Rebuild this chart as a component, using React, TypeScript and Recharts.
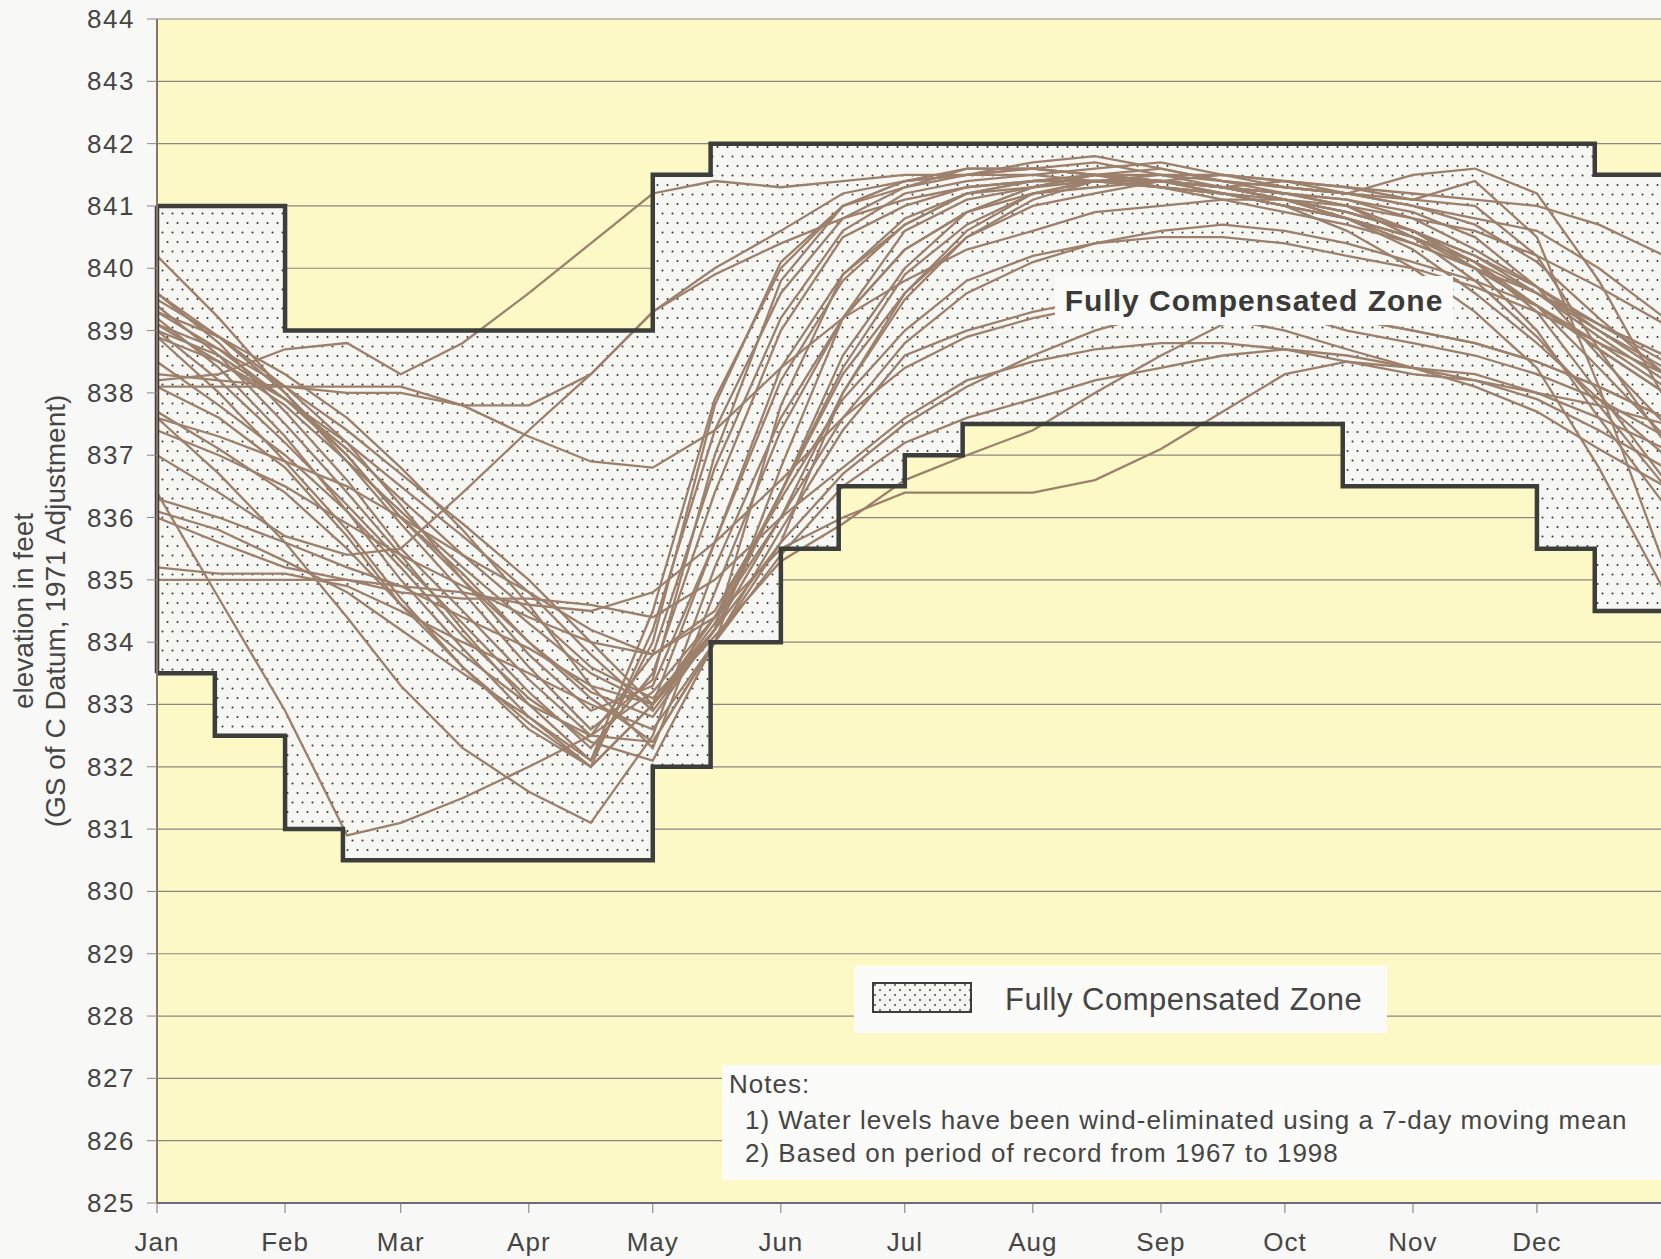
import {
  ComposedChart,
  Line,
  Area,
  XAxis,
  YAxis,
  CartesianGrid,
  ReferenceLine,
  Label,
} from "recharts";

const FONT = '"Liberation Sans", Arial, Helvetica, sans-serif';
const TEXT = "#454545";

// sample dates (day of year) for every trace
const DAYS = [0, 15, 31, 46, 59, 74, 90, 105, 120, 135, 151, 166, 181, 196, 212, 227, 243, 258, 273, 288, 304, 319, 334, 349, 365];

const MONTH_TICKS = [0, 31, 59, 90, 120, 151, 181, 212, 243, 273, 304, 334];
const MONTH_LABELS = ["Jan", "Feb", "Mar", "Apr", "May", "Jun", "Jul", "Aug", "Sep", "Oct", "Nov", "Dec"];
const ELEV_TICKS = [825, 826, 827, 828, 829, 830, 831, 832, 833, 834, 835, 836, 837, 838, 839, 840, 841, 842, 843, 844];

// fully compensated zone, step boundaries
const ZONE_DAYS = [0, 14, 31, 45, 120, 134, 151, 165, 181, 195, 287, 334, 348, 365];
const ZONE_UPPER = [841, 841, 839, 839, 841.5, 842, 842, 842, 842, 842, 842, 842, 841.5, 841.5];
const ZONE_LOWER = [833.5, 832.5, 831, 830.5, 832, 834, 835.5, 836.5, 837, 837.5, 836.5, 835.5, 834.5, 834.5];

// yearly water level traces (7-day mean), one value per entry of DAYS
const TRACE_01 = [840.2, 839.2, 838.0, 836.9, 835.9, 834.8, 833.6, 832.6, 833.4, 837.0, 839.8, 841.0, 841.4, 841.5, 841.6, 841.7, 841.5, 841.3, 841.2, 841.0, 840.6, 840.0, 839.0, 837.6, 836.2];
const TRACE_02 = [839.6, 838.8, 837.7, 836.6, 835.5, 834.5, 833.4, 832.5, 833.8, 836.8, 839.2, 840.6, 841.2, 841.4, 841.5, 841.6, 841.7, 841.5, 841.3, 841.2, 841.0, 840.7, 840.1, 839.2, 838.3];
const TRACE_03 = [839.5, 838.9, 838.1, 837.2, 836.2, 835.0, 833.8, 832.9, 833.3, 835.6, 838.4, 839.9, 840.7, 841.2, 841.4, 841.5, 841.4, 841.3, 841.1, 840.8, 840.3, 839.6, 838.8, 837.9, 837.0];
const TRACE_04 = [839.4, 838.6, 837.5, 836.4, 835.4, 834.2, 833.0, 832.1, 834.0, 837.8, 840.1, 841.0, 841.4, 841.6, 841.6, 841.5, 841.4, 841.3, 841.4, 841.3, 841.1, 841.4, 840.5, 838.1, 835.2];
const TRACE_05 = [839.3, 838.7, 837.9, 837.0, 836.0, 835.1, 834.0, 833.2, 832.8, 834.2, 837.8, 839.9, 840.8, 841.2, 841.3, 841.4, 841.4, 841.3, 841.2, 841.1, 840.9, 840.5, 839.7, 838.6, 837.5];
const TRACE_06 = [839.2, 838.4, 837.3, 836.1, 835.0, 833.9, 832.8, 832.1, 834.5, 837.9, 840.0, 841.0, 841.3, 841.5, 841.7, 841.8, 841.6, 841.4, 841.2, 841.0, 840.5, 839.8, 838.9, 837.8, 836.5];
const TRACE_07 = [839.1, 838.5, 837.8, 836.9, 836.1, 835.2, 834.3, 833.5, 833.0, 834.3, 836.4, 838.6, 840.0, 840.9, 841.3, 841.5, 841.6, 841.4, 841.3, 841.2, 841.1, 841.0, 840.2, 838.7, 837.2];
const TRACE_08 = [839.0, 838.2, 837.2, 836.2, 835.3, 834.3, 833.2, 832.3, 833.5, 836.4, 839.0, 840.5, 841.0, 841.3, 841.4, 841.5, 841.3, 841.2, 841.1, 840.8, 840.4, 840.0, 839.6, 839.1, 838.6];
const TRACE_09 = [839.0, 838.6, 837.9, 837.1, 836.3, 835.4, 834.5, 833.6, 833.1, 834.2, 836.0, 838.0, 839.5, 840.5, 841.1, 841.4, 841.5, 841.5, 841.4, 841.3, 841.2, 841.1, 841.0, 840.7, 840.2];
const TRACE_10 = [838.9, 838.0, 836.9, 835.8, 834.7, 833.6, 832.6, 832.0, 834.2, 837.4, 839.6, 840.8, 841.3, 841.6, 841.6, 841.5, 841.4, 841.2, 841.0, 840.6, 840.0, 839.3, 838.4, 836.8, 834.8];
const TRACE_11 = [838.5, 837.8, 837.0, 836.1, 835.2, 834.1, 833.1, 832.4, 832.1, 834.0, 835.6, 838.0, 839.6, 840.6, 841.2, 841.4, 841.4, 841.3, 841.2, 841.1, 840.8, 840.3, 839.7, 839.0, 838.3];
const TRACE_12 = [838.1, 837.6, 836.8, 835.7, 834.6, 833.6, 832.7, 832.0, 833.0, 835.6, 838.2, 839.8, 840.7, 841.2, 841.4, 841.4, 841.3, 841.1, 840.9, 840.7, 840.4, 840.0, 839.4, 838.7, 838.0];
const TRACE_13 = [837.7, 837.1, 836.4, 835.5, 834.6, 833.8, 833.0, 832.5, 832.4, 834.0, 835.8, 837.4, 838.6, 839.0, 839.3, 839.5, 839.6, 839.5, 839.3, 839.0, 838.8, 838.6, 838.3, 837.9, 837.3];
const TRACE_14 = [837.6, 836.7, 835.6, 834.4, 833.3, 832.3, 831.6, 831.1, 832.5, 835.2, 837.6, 839.2, 840.3, 840.9, 841.3, 841.5, 841.4, 841.2, 841.0, 840.8, 840.5, 840.1, 839.3, 838.0, 836.6];
const TRACE_15 = [836.4, 834.7, 832.9, 830.9, 831.1, 831.5, 832.0, 832.5, 833.2, 834.4, 836.4, 838.4, 839.9, 840.7, 841.2, 841.4, 841.4, 841.3, 841.1, 840.9, 840.6, 840.1, 839.4, 838.4, 837.3];
const TRACE_16 = [839.1, 838.7, 838.1, 837.4, 836.7, 835.9, 835.0, 834.0, 833.0, 834.4, 836.0, 837.6, 838.8, 839.6, 840.1, 840.4, 840.6, 840.7, 840.6, 840.4, 840.1, 839.8, 839.4, 838.8, 838.1];
const TRACE_17 = [839.3, 838.9, 838.3, 837.6, 836.8, 835.8, 834.6, 833.3, 832.3, 834.8, 837.4, 839.2, 840.3, 840.9, 841.2, 841.3, 841.4, 841.3, 841.1, 840.9, 840.6, 840.2, 839.6, 838.9, 838.2];
const TRACE_18 = [838.9, 838.5, 837.9, 837.2, 836.5, 835.7, 834.8, 833.8, 832.9, 834.2, 836.4, 838.3, 839.6, 840.5, 841.0, 841.2, 841.4, 841.5, 841.4, 841.2, 841.5, 841.6, 841.2, 839.8, 837.9];
const TRACE_19 = [839.6, 838.9, 838.0, 837.0, 836.0, 835.0, 834.0, 833.1, 832.4, 834.0, 836.8, 839.2, 840.6, 841.1, 841.3, 841.5, 841.5, 841.4, 841.3, 841.2, 841.0, 840.8, 840.6, 840.0, 839.2];
const TRACE_20 = [835.0, 835.0, 835.0, 835.0, 834.9, 834.8, 834.6, 834.5, 834.8, 835.6, 836.6, 837.6, 838.4, 838.9, 839.2, 839.4, 839.5, 839.5, 839.4, 839.2, 839.0, 838.8, 838.5, 838.1, 837.6];
const TRACE_21 = [836.0, 835.6, 835.2, 835.0, 834.8, 834.7, 834.7, 834.6, 834.4, 835.0, 836.0, 836.8, 837.6, 838.2, 838.5, 838.7, 838.8, 838.8, 838.7, 838.5, 838.3, 838.2, 838.0, 837.8, 837.5];
const TRACE_22 = [836.3, 836.0, 835.6, 835.2, 834.9, 834.4, 833.9, 833.3, 833.0, 834.2, 835.6, 836.7, 837.5, 838.1, 838.6, 839.0, 839.3, 839.2, 839.0, 838.7, 838.4, 838.2, 837.9, 837.4, 836.8];
const TRACE_23 = [835.2, 835.1, 835.1, 834.9, 834.5, 834.0, 833.5, 833.0, 832.6, 834.0, 835.4, 836.5, 837.2, 837.6, 837.9, 838.2, 838.4, 838.6, 838.7, 838.6, 838.4, 838.1, 837.7, 837.1, 836.5];
const TRACE_24 = [836.1, 835.8, 835.3, 834.8, 834.2, 833.5, 832.8, 832.0, 833.0, 834.1, 835.3, 835.9, 836.6, 837.0, 837.4, 838.0, 838.6, 839.1, 839.3, 839.2, 839.0, 838.8, 838.5, 838.1, 837.6];
const TRACE_25 = [837.4, 837.0, 836.5, 835.9, 835.4, 834.9, 834.4, 834.0, 833.8, 834.4, 835.5, 836.0, 836.4, 836.4, 836.4, 836.6, 837.1, 837.7, 838.3, 838.5, 838.4, 838.3, 838.0, 837.6, 837.1];
const TRACE_26 = [837.6, 837.3, 836.9, 836.5, 836.0, 835.4, 834.8, 834.2, 833.8, 834.5, 836.3, 837.9, 839.0, 839.8, 840.2, 840.4, 840.5, 840.5, 840.4, 840.2, 840.0, 839.7, 839.3, 838.8, 838.3];
const TRACE_27 = [838.2, 838.3, 838.7, 838.8, 838.3, 838.8, 839.6, 840.4, 841.2, 841.4, 841.3, 841.4, 841.5, 841.5, 841.6, 841.5, 841.4, 841.3, 841.1, 840.9, 840.6, 840.2, 839.7, 839.1, 838.5];
const TRACE_28 = [838.3, 838.2, 838.1, 838.0, 838.0, 837.8, 837.8, 838.3, 839.3, 840.0, 840.6, 841.2, 841.4, 841.5, 841.5, 841.4, 841.3, 841.2, 841.0, 840.8, 840.5, 840.1, 839.6, 839.0, 838.4];
const TRACE_29 = [838.1, 838.1, 838.1, 838.1, 838.1, 837.8, 837.3, 836.9, 836.8, 837.4, 838.4, 839.2, 839.8, 840.3, 840.6, 840.9, 841.0, 841.1, 841.1, 841.0, 840.8, 840.6, 840.2, 839.7, 839.1];
const TRACE_30 = [837.0, 836.4, 835.7, 835.4, 835.5, 836.4, 837.4, 838.3, 839.3, 839.9, 840.4, 840.8, 841.1, 841.3, 841.4, 841.4, 841.3, 841.2, 841.0, 840.8, 840.5, 840.0, 839.4, 838.7, 838.0];

const TRACES = [
  TRACE_01, TRACE_02, TRACE_03, TRACE_04, TRACE_05, TRACE_06, TRACE_07, TRACE_08, TRACE_09, TRACE_10,
  TRACE_11, TRACE_12, TRACE_13, TRACE_14, TRACE_15, TRACE_16, TRACE_17, TRACE_18, TRACE_19, TRACE_20,
  TRACE_21, TRACE_22, TRACE_23, TRACE_24, TRACE_25, TRACE_26, TRACE_27, TRACE_28, TRACE_29, TRACE_30,
];

const rows = DAYS.map((day, i) => {
  const row: Record<string, number> = { day };
  TRACES.forEach((t, k) => {
    row[`t${k}`] = t[i];
  });
  return row;
});

const zoneRows = ZONE_DAYS.map((day, i) => ({
  day,
  band: [ZONE_LOWER[i], ZONE_UPPER[i]],
  upper: ZONE_UPPER[i],
  lower: ZONE_LOWER[i],
}));

const YTick = ({ x, y, payload }: any) => (
  <text
    x={x}
    y={y}
    textAnchor="end"
    dominantBaseline="central"
    fontSize={26}
    letterSpacing={1.5}
    fontFamily={FONT}
    fill={TEXT}
  >
    {payload.value}
  </text>
);

const XTick = ({ x, y, payload }: any) => (
  <text
    x={x}
    y={y}
    dy="0.71em"
    textAnchor="middle"
    fontSize={26}
    letterSpacing={1}
    fontFamily={FONT}
    fill={TEXT}
  >
    {MONTH_LABELS[MONTH_TICKS.indexOf(payload.value)]}
  </text>
);

const YTitle = (props: any) => {
  const vb = props.viewBox || { x: 0, y: 19, width: 157, height: 1184 };
  const cy = vb.y + vb.height / 2;
  const x1 = vb.x + 23;
  const x2 = vb.x + 55;
  const common = {
    textAnchor: "middle" as const,
    dominantBaseline: "central" as const,
    fontSize: 28,
    fontFamily: FONT,
    fill: TEXT,
  };
  return (
    <g>
      <text x={x1} y={cy} transform={`rotate(-90, ${x1}, ${cy})`} {...common}>
        elevation in feet
      </text>
      <text x={x2} y={cy} transform={`rotate(-90, ${x2}, ${cy})`} {...common}>
        (GS of C Datum, 1971 Adjustment)
      </text>
    </g>
  );
};

const boxStyle: React.CSSProperties = {
  position: "absolute",
  background: "#fbfbf9",
  fontFamily: FONT,
  color: TEXT,
};

export default function App() {
  return (
    <div
      style={{
        position: "relative",
        width: 1661,
        height: 1259,
        overflow: "hidden",
        background: "#f8f8f6",
      }}
    >
      <style>{"body{margin:0;}"}</style>
      <ComposedChart
        width={1665}
        height={1259}
        data={rows}
        margin={{ top: 19, right: 0, bottom: 0, left: 0 }}
      >
        <defs>
          <pattern id="zoneDots" width="10" height="19" patternUnits="userSpaceOnUse">
            <rect width="10" height="19" fill="#f6f6f3" />
            <circle cx="2.5" cy="4.5" r="1" fill="#333" />
            <circle cx="7.5" cy="14" r="1" fill="#333" />
          </pattern>
        </defs>
        <CartesianGrid
          vertical={false}
          stroke="#8e8581"
          strokeWidth={1.2}
          fill="#fdf9c6"
          fillOpacity={1}
        />
        <XAxis
          dataKey="day"
          type="number"
          domain={[0, 365]}
          ticks={MONTH_TICKS}
          interval={0}
          allowDataOverflow
          height={56}
          tickSize={10}
          tickMargin={20}
          tick={<XTick />}
          axisLine={{ stroke: "#6c6880", strokeWidth: 2 }}
          tickLine={{ stroke: "#777" }}
        />
        <YAxis
          type="number"
          domain={[825, 844]}
          ticks={ELEV_TICKS}
          interval={0}
          allowDataOverflow
          width={157}
          tickSize={10}
          tickMargin={12}
          tick={<YTick />}
          axisLine={{ stroke: "#8a7565", strokeWidth: 2 }}
          tickLine={{ stroke: "#8e8581" }}
        >
          <Label content={<YTitle />} />
        </YAxis>

        <Area
          data={zoneRows}
          dataKey="band"
          type="stepAfter"
          fill="url(#zoneDots)"
          fillOpacity={1}
          stroke="none"
          isAnimationActive={false}
          activeDot={false}
        />

        {TRACES.map((_, k) => (
          <Line
            key={k}
            dataKey={`t${k}`}
            type="linear"
            stroke="#9c806c"
            strokeWidth={2.3}
            dot={false}
            activeDot={false}
            isAnimationActive={false}
          />
        ))}

        <Line
          data={zoneRows}
          dataKey="upper"
          type="stepAfter"
          stroke="#3b3e3b"
          strokeWidth={4.5}
          dot={false}
          activeDot={false}
          isAnimationActive={false}
        />
        <Line
          data={zoneRows}
          dataKey="lower"
          type="stepAfter"
          stroke="#3b3e3b"
          strokeWidth={4.5}
          dot={false}
          activeDot={false}
          isAnimationActive={false}
        />
        <ReferenceLine
          segment={[
            { x: 0, y: ZONE_LOWER[0] },
            { x: 0, y: ZONE_UPPER[0] },
          ]}
          stroke="#3b3e3b"
          strokeWidth={4.5}
        />
      </ComposedChart>

      {/* zone label */}
      <div
        style={{
          ...boxStyle,
          left: 1055,
          top: 276,
          width: 398,
          height: 49,
          display: "flex",
          alignItems: "center",
          justifyContent: "center",
          fontWeight: 700,
          fontSize: 30,
          letterSpacing: 1,
          color: "#3a3a3a",
        }}
      >
        Fully Compensated Zone
      </div>

      {/* legend */}
      <div style={{ ...boxStyle, left: 854, top: 966, width: 533, height: 67 }}>
        <svg
          width={100}
          height={31}
          style={{ position: "absolute", left: 18, top: 16 }}
        >
          <defs>
            <pattern id="legendDots" width="10" height="10" patternUnits="userSpaceOnUse">
              <rect width="10" height="10" fill="#f6f6f3" />
              <circle cx="3" cy="3" r="0.9" fill="#3a3a3a" />
              <circle cx="8" cy="8" r="0.9" fill="#3a3a3a" />
            </pattern>
          </defs>
          <rect x={1} y={1} width={98} height={29} fill="url(#legendDots)" stroke="#3b3e3b" strokeWidth={2} />
        </svg>
        <div
          style={{
            position: "absolute",
            left: 151,
            top: 14,
            fontSize: 31,
            lineHeight: "40px",
            letterSpacing: 0.5,
            whiteSpace: "nowrap",
          }}
        >
          Fully Compensated Zone
        </div>
      </div>

      {/* notes */}
      <div style={{ ...boxStyle, left: 722, top: 1065, width: 945, height: 115 }}>
        <div style={{ position: "absolute", left: 7, top: 3, fontSize: 26, lineHeight: "32px", letterSpacing: 1, whiteSpace: "nowrap" }}>
          Notes:
        </div>
        <div style={{ position: "absolute", left: 23, top: 39, fontSize: 26, lineHeight: "32px", letterSpacing: 1, whiteSpace: "nowrap" }}>
          1) Water levels have been wind-eliminated using a 7-day moving mean
        </div>
        <div style={{ position: "absolute", left: 23, top: 72, fontSize: 26, lineHeight: "32px", letterSpacing: 1, whiteSpace: "nowrap" }}>
          2) Based on period of record from 1967 to 1998
        </div>
      </div>
    </div>
  );
}
